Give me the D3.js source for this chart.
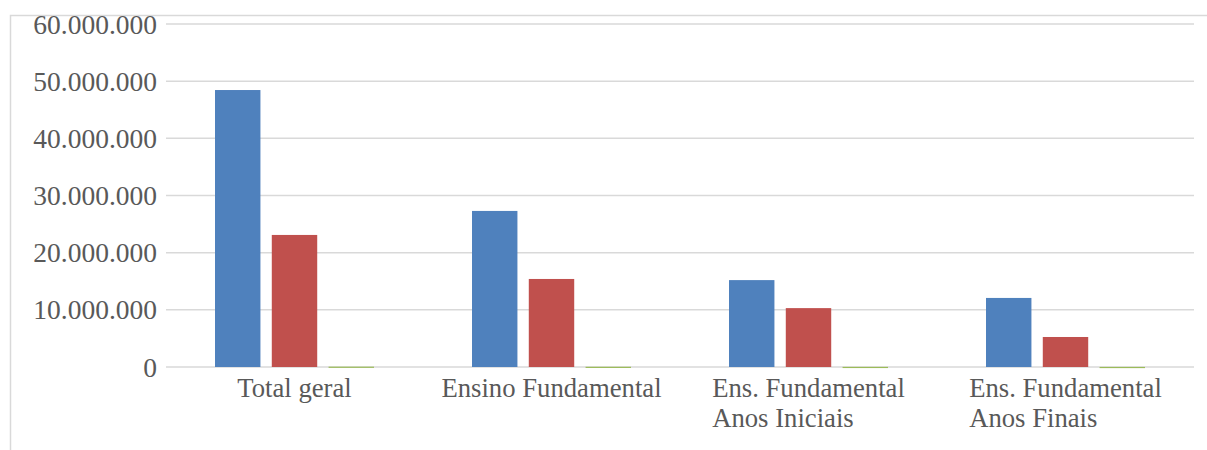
<!DOCTYPE html>
<html>
<head>
<meta charset="utf-8">
<script src="https://cdn.jsdelivr.net/npm/d3@7"></script>
<style>
  html, body { margin: 0; padding: 0; background: #fff; }
  svg { display: block; }
</style>
</head>
<body>
<svg id="chart" width="1207" height="450"></svg>
<script>
// Matrículas por etapa de ensino (three series)
const categories = [
  ["Total geral"],
  ["Ensino Fundamental"],
  ["Ens. Fundamental", "Anos Iniciais"],
  ["Ens. Fundamental", "Anos Finais"]
];
const seriesA = [48450000, 27300000, 15200000, 12080000];
const seriesB = [23100000, 15400000, 10300000, 5250000];
const seriesC = [60000, 40000, 25000, 15000];
const yTicks = [0, 10000000, 20000000, 30000000, 40000000, 50000000, 60000000];
const seriesColors = ["#4f81bd", "#c0504d", "#9bbb59"];

const svg = d3.select("#chart");
const W = 1207, H = 450;
const plot = { left: 166, right: 1194, top: 24, bottom: 367 };
const fontFamily = "'Liberation Serif', 'Times New Roman', Tinos, 'DejaVu Serif', serif";

// outer chart frame (runs off the right and bottom edges)
svg.append("path")
  .attr("d", `M10.5,${H} L10.5,15.5 L${W},15.5`)
  .attr("fill", "none")
  .attr("stroke", "#d9d9d9")
  .attr("stroke-width", 1.5);

const y = d3.scaleLinear().domain([0, 60000000]).range([plot.bottom, plot.top]);
const x0 = d3.scaleBand().domain(d3.range(categories.length))
  .range([plot.left, plot.right]).padding(0);
const x1 = d3.scaleBand().domain([0, 1, 2])
  .range([49, x0.bandwidth() - 49]).paddingInner(0.2).paddingOuter(0);

const fmt = v => d3.format(",")(v).replace(/,/g, ".");

// horizontal gridlines
svg.append("g").selectAll("line").data(yTicks).join("line")
  .attr("x1", plot.left).attr("x2", plot.right)
  .attr("y1", d => y(d)).attr("y2", d => y(d))
  .attr("stroke", "#d9d9d9").attr("stroke-width", 1.5);

// y tick labels
svg.append("g").selectAll("text").data(yTicks).join("text")
  .attr("x", 157).attr("y", d => y(d))
  .attr("dy", "0.35em")
  .attr("text-anchor", "end")
  .style("font-family", fontFamily)
  .attr("font-size", 27.5)
  .attr("fill", "#595959")
  .text(fmt);

// bars
const series = [seriesA, seriesB, seriesC];
const groups = svg.append("g").selectAll("g").data(categories).join("g")
  .attr("transform", (d, i) => `translate(${x0(i)},0)`);
groups.selectAll("rect")
  .data((d, i) => series.map((s, k) => ({ k, v: s[i] })))
  .join("rect")
  .attr("x", d => x1(d.k))
  .attr("width", x1.bandwidth())
  .attr("y", d => y(d.v))
  .attr("height", d => Math.max(1.2, y(0) - y(d.v)))
  .attr("fill", d => seriesColors[d.k]);

// category labels: wrapped lines, left-aligned block centred on the band
const labels = svg.append("g").selectAll("text").data(categories).join("text")
  .style("font-family", fontFamily)
  .attr("font-size", 26.7)
  .attr("fill", "#595959")
  .attr("y", 397);
labels.each(function (lines, i) {
  const t = d3.select(this);
  lines.forEach((ln, j) => {
    t.append("tspan").attr("x", 0).attr("dy", j === 0 ? 0 : 30).text(ln);
  });
  const w = this.getBBox().width;
  const cx = x0(i) + x0.bandwidth() / 2;
  t.selectAll("tspan").attr("x", cx - w / 2);
});
</script>
</body>
</html>
